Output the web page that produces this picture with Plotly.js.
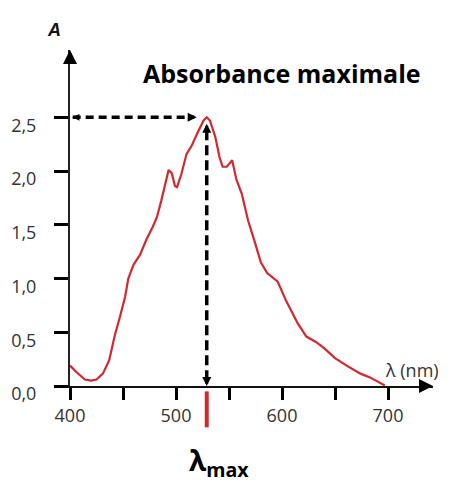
<!DOCTYPE html>
<html>
<head>
<meta charset="utf-8">
<script src="https://cdn.plot.ly/plotly-3.0.1.min.js"></script>
<style>html,body{margin:0;padding:0;background:#fff;}#chart{width:472px;height:482px;}</style>
</head>
<body>
<div id="chart"></div>
<script>
// Wavelength (nm) and absorbance
var wavelength = [400,406,414,420,425,431,437,442,447,452,455,460,466,472,478,482,486,490,493,496,499,501,505,510,515,521,526,529,532,537,541,544,548,553,557,562,568,574,580,586,591,596,604,610,615,623,632,640,650,661,674,683,690,697];
var absorbance = [0.19,0.13,0.06,0.05,0.06,0.115,0.24,0.46,0.64,0.83,1.0,1.13,1.22,1.36,1.48,1.57,1.72,1.90,2.01,1.98,1.86,1.85,1.97,2.16,2.24,2.37,2.47,2.50,2.47,2.32,2.13,2.04,2.04,2.10,1.92,1.79,1.54,1.35,1.15,1.05,1.01,0.97,0.79,0.67,0.58,0.46,0.41,0.35,0.26,0.19,0.115,0.08,0.04,0.005];
var xTickVals = [400,450,500,550,600,650,700];
var xTickText = ['400','','500','','600','','700'];
var yTickVals = [0,0.5,1,1.5,2,2.5];
var yTickText = ['0,0','0,5','1,0','1,5','2,0','2,5'];
var lambdaMax = 529;
var aMax = 2.5;

var trace = {
  x: wavelength, y: absorbance, type: 'scatter', mode: 'lines',
  line: {color: '#d3282d', width: 2.2}, hoverinfo: 'skip'
};

var arrowHead = function(x, y, ax, ay, xref, yref, size, w) {
  return {x: x, y: y, xref: xref, yref: yref, ax: ax, ay: ay, axref: 'pixel', ayref: 'pixel',
    text: '', showarrow: true, arrowhead: 2, arrowsize: size, arrowwidth: w, arrowcolor: '#000'};
};
var label = function(x, y, xref, text, font) {
  return {xref: xref, yref: 'paper', x: x, y: y, text: text, showarrow: false,
    xanchor: 'center', yanchor: 'middle', font: font};
};

var layout = {
  width: 472, height: 482,
  margin: {l: 70, r: 39, t: 50, b: 96.3},
  paper_bgcolor: '#fff', plot_bgcolor: '#fff',
  showlegend: false,
  font: {family: 'Open Sans', color: '#333'},
  xaxis: {
    range: [400, 742.45], showgrid: false, zeroline: false,
    showline: true, linecolor: '#111', linewidth: 2,
    ticks: 'outside', ticklen: 12, tickwidth: 3, tickcolor: '#000',
    tickvals: xTickVals, ticktext: xTickText,
    tickfont: {family: 'Open Sans', size: 18, color: '#333'}
  },
  yaxis: {
    range: [0, 3.126], showgrid: false, zeroline: false,
    showline: true, linecolor: '#222', linewidth: 2,
    ticks: 'outside', ticklen: 14, tickwidth: 3, tickcolor: '#000',
    tickvals: yTickVals, ticktext: yTickText,
    ticklabelstandoff: 14, ticklabelshift: 8,
    tickfont: {family: 'Open Sans', size: 18, color: '#333'}
  },
  shapes: [
    {type: 'line', xref: 'x', yref: 'y', x0: 402.5, x1: 517, y0: aMax, y1: aMax,
     line: {color: '#000', width: 3.5, dash: '8px,5px'}},
    {type: 'line', xref: 'x', yref: 'y', x0: lambdaMax, x1: lambdaMax, y0: 2.38, y1: 0.05,
     line: {color: '#000', width: 3.5, dash: '10px,5px'}},
    {type: 'line', xref: 'x', yref: 'paper', x0: lambdaMax, x1: lambdaMax, y0: -0.016, y1: -0.123,
     line: {color: '#d3282d', width: 4}}
  ],
  annotations: [
    arrowHead(400, 1, 0, 14, 'x', 'paper', 1.4, 2),
    arrowHead(1, 0, -14, 0, 'paper', 'y', 1.4, 2),
    arrowHead(519.5, aMax, -5, 0, 'x', 'y', 0.6, 3),
    arrowHead(402.5, aMax, 5, 0, 'x', 'y', 0.45, 3),
    arrowHead(lambdaMax, 2.44, 0, 5, 'x', 'y', 0.6, 3),
    arrowHead(lambdaMax, 0.0, 0, -5, 'x', 'y', 0.6, 3),
    label(-0.044, 1.0596, 'paper', '<b><i>A</i></b>', {family: 'Liberation Sans', size: 18, color: '#111'}),
    label(0.584, 0.9315, 'paper', '<b>Absorbance maximale</b>', {family: 'Open Sans', size: 25, color: '#000'}),
    label(0.942, 0.0468, 'paper', 'λ (nm)', {family: 'Open Sans', size: 18, color: '#333'}),
    label(540.6, -0.225, 'x', '<b>λ<sub>max</sub></b>', {family: 'Open Sans', size: 28, color: '#000'})
  ]
};

Plotly.newPlot('chart', [trace], layout, {staticPlot: true, displayModeBar: false});
</script>
</body>
</html>
